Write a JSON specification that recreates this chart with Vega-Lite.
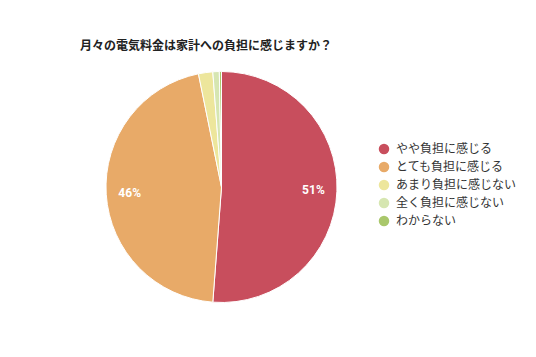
{
  "$schema": "https://vega.github.io/schema/vega-lite/v6.json",
  "autosize": "none",
  "width": 443,
  "height": 340,
  "padding": {"left": 0, "top": 17, "right": 93, "bottom": 0},
  "background": "white",
  "title": {
    "text": "月々の電気料金は家計への負担に感じますか？",
    "anchor": "start",
    "frame": "group",
    "dx": 80,
    "offset": -36,
    "font": "Noto Sans CJK JP",
    "fontSize": 12,
    "fontWeight": "bold",
    "color": "#222222"
  },
  "data": {
    "values": [
      {"idx": 1, "answer": "やや負担に感じる", "value": 51.2, "label": "51%"},
      {"idx": 2, "answer": "とても負担に感じる", "value": 45.6, "label": "46%"},
      {"idx": 3, "answer": "あまり負担に感じない", "value": 2.0, "label": ""},
      {"idx": 4, "answer": "全く負担に感じない", "value": 0.9, "label": ""},
      {"idx": 5, "answer": "わからない", "value": 0.3, "label": ""}
    ]
  },
  "encoding": {
    "theta": {"field": "value", "type": "quantitative", "stack": true},
    "order": {"field": "idx", "type": "quantitative"},
    "color": {
      "field": "answer",
      "type": "nominal",
      "scale": {
        "domain": ["やや負担に感じる", "とても負担に感じる", "あまり負担に感じない", "全く負担に感じない", "わからない"],
        "range": ["#c84e5d", "#e8aa68", "#ede69c", "#d6e6b1", "#a9c76b"]
      },
      "legend": {
        "orient": "none",
        "legendX": 378,
        "legendY": 126,
        "title": null,
        "symbolType": "circle",
        "symbolSize": 110,
        "symbolStrokeWidth": 0,
        "labelFont": "Noto Sans CJK JP",
        "labelFontSize": 12,
        "labelColor": "#333333",
        "labelOffset": 6,
        "rowPadding": 6
      }
    }
  },
  "layer": [
    {
      "mark": {"type": "arc", "outerRadius": 115.5, "stroke": "white", "strokeWidth": 1}
    },
    {
      "mark": {"type": "text", "radius": 92, "font": "Roboto", "fontSize": 12, "fontWeight": "bold", "color": "white"},
      "encoding": {
        "text": {"field": "label"},
        "color": {"value": "white"}
      }
    }
  ]
}
